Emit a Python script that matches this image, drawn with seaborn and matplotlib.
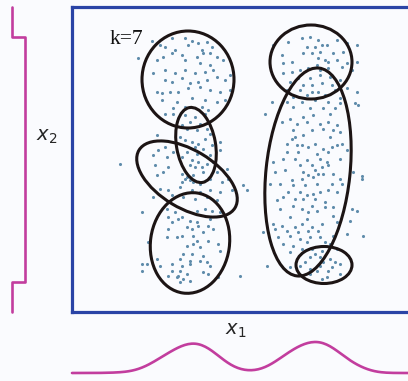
import matplotlib
matplotlib.use('Agg')
import matplotlib.pyplot as plt
from matplotlib.patches import Ellipse
import seaborn as sns

# Puntos de los dos grupos (x1, x2)
left_x1 = [80, 66, 88, 100, 113, 120, 126, 135, 140, 130, 116, 103, 110, 100, 93, 85, 91, 113, 125, 131,
           138, 145, 128, 138, 151, 81, 93, 103, 113, 123, 133, 141, 158, 93, 100, 110, 118, 126, 135, 145,
           153, 85, 90, 98, 106, 116, 128, 138, 148, 158, 90, 105, 120, 133, 145, 153, 113, 130, 136, 101,
           93, 101, 113, 123, 133, 118, 128, 110, 115, 125, 135, 138, 85, 108, 120, 126, 133, 140, 148, 113,
           123, 131, 93, 86, 101, 115, 125, 138, 148, 48, 81, 95, 110, 120, 126, 135, 141, 83, 96, 123,
           130, 118, 85, 91, 110, 115, 121, 131, 145, 155, 110, 118, 113, 121, 128, 138, 150, 156, 88, 96,
           108, 120, 128, 138, 148, 160, 100, 81, 111, 123, 135, 145,
           70, 95, 103, 110, 125, 133, 140, 148, 96, 106, 100, 118, 125, 138, 96, 115, 120, 126, 136, 141,
           110, 95, 105, 121, 131, 125, 136, 76, 115, 121, 128, 146, 148, 111, 120, 131, 108, 118, 128, 85,
           100, 70, 75, 88, 110, 118, 135, 138, 70, 100, 108, 115, 106, 131, 136, 96, 105, 146, 111, 118,
           108, 168, 171]
left_x2 = [271, 254, 267, 274, 274, 271, 269, 270, 265, 262, 267, 262, 257, 259, 265, 252, 255, 252, 255, 259,
           259, 255, 249, 247, 252, 239, 242, 239, 242, 239, 240, 242, 237, 232, 230, 234, 229, 230, 232, 235,
           232, 220, 219, 220, 220, 224, 225, 222, 220, 222, 212, 210, 214, 212, 210, 212, 205, 205, 202, 204,
           198, 198, 197, 195, 198, 190, 188, 187, 183, 182, 183, 178, 177, 175, 170, 168, 173, 167, 170, 172,
           165, 163, 165, 162, 160, 160, 158, 157, 162, 148, 157, 155, 155, 152, 150, 148, 150, 147, 145, 145,
           145, 147, 137, 140, 138, 135, 137, 140, 140, 143, 130, 132, 133, 130, 128, 133, 130, 133, 123, 122,
           125, 122, 120, 122, 120, 122, 117, 115, 115, 113, 115, 112,
           100, 103, 100, 95, 101, 103, 101, 100, 95, 93, 90, 91, 90, 93, 83, 85, 83, 86, 86, 83,
           76, 75, 75, 76, 80, 71, 71, 70, 66, 68, 65, 68, 61, 58, 58, 56, 53, 51, 51, 53,
           48, 48, 48, 46, 46, 48, 50, 46, 41, 41, 41, 38, 36, 40, 38, 36, 35, 35, 33, 31,
           30, 36, 127]

right_x1 = [201, 216, 230, 238, 246, 255, 265, 275, 285, 235, 243, 250, 231, 240, 248, 261, 271, 210, 246, 253,
            256, 245, 211, 220, 265, 275, 285, 211, 220, 228, 236, 248, 256, 270, 280, 226, 238, 248, 258, 268,
            218, 231, 240, 250, 260, 215, 228, 240, 246, 263, 275, 285, 221, 235, 253, 268, 200, 215, 230, 243,
            256, 268, 283, 221, 238, 251, 263,
            193, 218, 231, 241, 258, 225, 235, 248, 256, 265, 210, 221, 240, 251, 261, 268, 223, 220, 231, 258,
            215, 225, 230, 236, 243, 251, 260, 265, 270, 215, 226, 245, 256, 275, 211, 223, 235, 248, 255, 268,
            201, 228, 240, 250, 256, 231, 243, 246, 236, 251, 261, 203, 213, 281, 220, 230, 241, 268, 198, 208,
            221, 233, 245, 260, 270, 175, 216, 228, 235, 241, 248, 256, 265, 211, 223, 231, 243, 253, 205,
            208, 221, 230, 236, 240, 245, 253, 261, 280, 285, 218, 235, 261, 201, 210, 223, 230, 240, 250, 265,
            278, 191, 203, 215, 226, 236, 246, 206, 218, 228, 238, 248, 261, 275, 291, 211, 221, 235, 253, 258,
            218, 230, 240, 250, 265, 238, 248, 258, 243, 233, 251, 263, 268, 195, 218, 228, 238, 248, 260, 238,
            245, 256, 268, 250, 255, 286, 290, 290]
right_x2 = [267, 270, 274, 275, 272, 267, 272, 269, 267, 265, 265, 267, 259, 259, 260, 259, 260, 257, 254, 252,
            250, 247, 249, 250, 252, 249, 250, 239, 240, 242, 244, 242, 244, 245, 242, 234, 234, 237, 235, 232,
            230, 227, 227, 229, 227, 222, 222, 220, 220, 222, 224, 220, 215, 217, 217, 214, 210, 210, 210, 212,
            210, 209, 209, 205, 204, 204, 204,
            198, 193, 195, 197, 198, 188, 190, 188, 190, 187, 190, 182, 182, 183, 182, 180, 175, 173, 177, 175,
            168, 167, 167, 165, 168, 163, 165, 167, 168, 160, 160, 158, 160, 162, 153, 153, 152, 153, 150, 153,
            150, 147, 147, 145, 147, 140, 142, 138, 137, 138, 138, 140, 142, 140, 132, 133, 135, 133, 128, 128,
            127, 127, 128, 128, 128, 122, 120, 120, 117, 118, 120, 122, 120, 115, 113, 113, 113, 110, 112,
            103, 106, 103, 100, 106, 101, 105, 105, 103, 101, 95, 93, 96, 88, 86, 85, 88, 85, 88, 90,
            91, 80, 83, 81, 80, 81, 81, 75, 76, 73, 75, 75, 76, 78, 76, 68, 66, 70, 70, 68,
            60, 63, 63, 61, 63, 55, 55, 53, 58, 50, 50, 50, 48, 46, 45, 46, 43, 46, 45, 38,
            41, 41, 38, 33, 35, 207, 136, 133]

# Componentes del modelo (k=7): centro, ancho, alto, angulo
ell_x = [116, 124, 115, 118, 239, 236, 252]
ell_y = [232.5, 167, 133, 69, 250, 140, 47]
ell_w = [92, 39, 112, 79, 82, 84, 56]
ell_h = [97, 76, 58, 101, 74, 209, 37]
ell_angle = [0, 10, -31, -8, 0, -6, 0]

# Marginal de x2 (escalon)
x2_edges = [305, 275, 275, 30, 30, 0]
x2_level = [0, 0, 1, 1, 0, 0]

x1 = left_x1 + right_x1
x2 = left_x2 + right_x2

sns.set_style('white')
plt.rcParams['font.family'] = ['DejaVu Sans']
plt.rcParams['mathtext.fontset'] = 'dejavusans'

bg = '#fafbfe'
magenta = '#c23d9e'
blue = '#2a44a6'
W, H = 408, 381
fig = plt.figure(figsize=(W / 100, H / 100), dpi=100, facecolor=bg)

# Grafico principal
ax = fig.add_axes([72 / W, (H - 312) / H, 340 / W, 305 / H], facecolor=bg)
sns.scatterplot(x=x1, y=x2, ax=ax, s=5, color='#5f8cab', linewidth=0)
for cx, cy, w, h, a in zip(ell_x, ell_y, ell_w, ell_h, ell_angle):
    ax.add_patch(Ellipse((cx, cy), w, h, angle=a, fill=False,
                         edgecolor='#1c1414', linewidth=2.2))
ax.text(54, 272, 'k=7', family='Liberation Serif', fontsize=15.5,
        ha='center', va='center', color='#111111')
ax.set_xlim(0, 340)
ax.set_ylim(0, 305)
ax.set_xticks([])
ax.set_yticks([])
for s in ax.spines.values():
    s.set_color(blue)
    s.set_linewidth(2.3)

# Marginal izquierda
axl = fig.add_axes([12 / W, (H - 312) / H, 13 / W, 305 / H])
axl.plot(x2_level, x2_edges, color=magenta, linewidth=1.9, clip_on=False)
axl.set_xlim(0, 1)
axl.set_ylim(0, 305)
axl.axis('off')

# Marginal inferior
axb = fig.add_axes([72 / W, (H - 373) / H, 340 / W, 31 / H])
sns.kdeplot(x=x1, ax=axb, bw_adjust=0.65, cut=20, clip=(0, 340),
            color=magenta, linewidth=1.9)
peak = axb.lines[0].get_ydata().max()
axb.lines[0].set_clip_on(False)
axb.set_xlim(0, 340)
axb.set_ylim(0, peak)
axb.axis('off')

fig.text(47 / W, 1 - 137 / H, r'$x_2$', fontsize=14, ha='center', va='center')
fig.text(236 / W, 1 - 331 / H, r'$x_{\mathit{1}}$', fontsize=14, ha='center', va='center')

fig.savefig('out.png', dpi=100, facecolor=bg)
